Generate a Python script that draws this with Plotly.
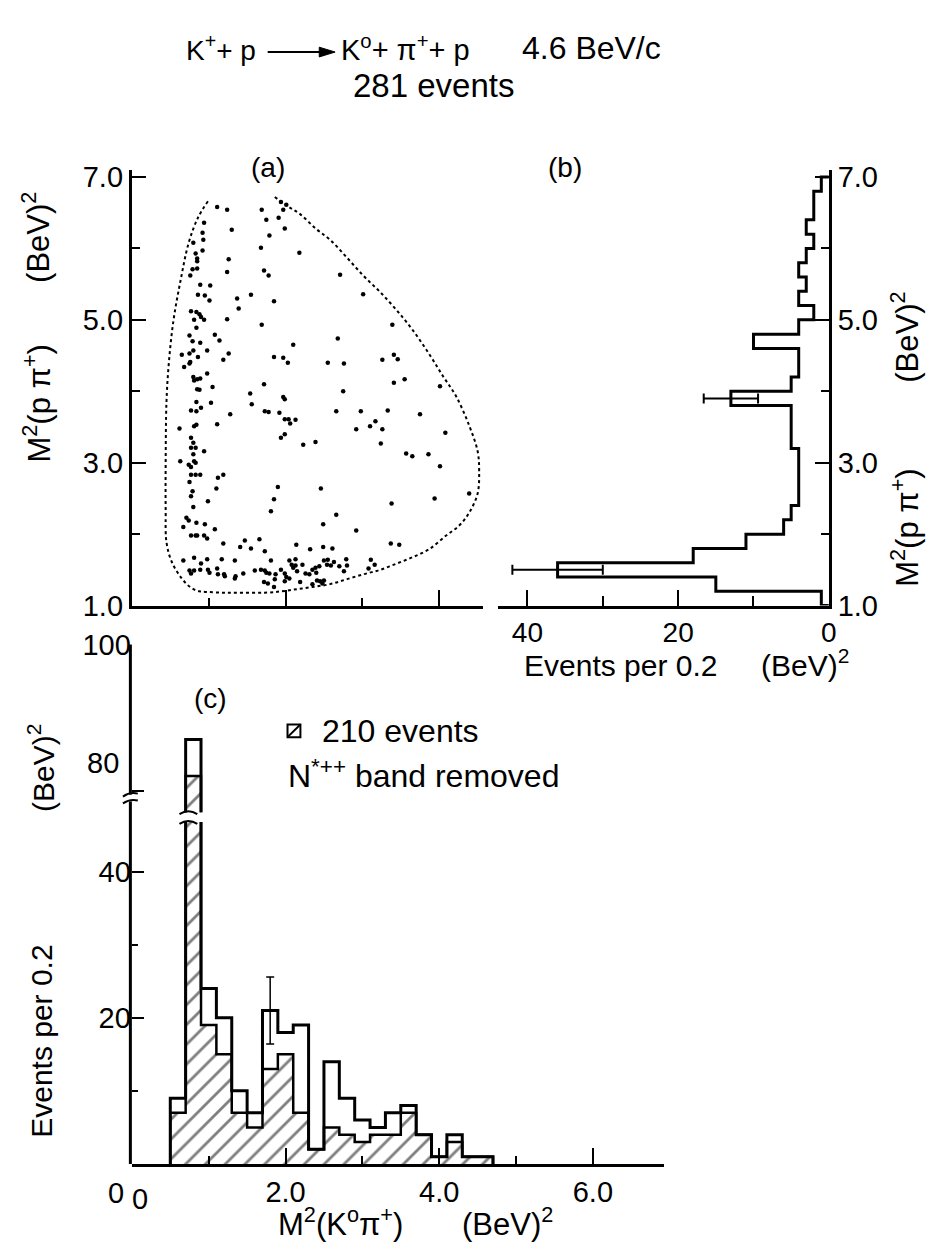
import plotly.graph_objects as go

# ---------------------------------------------------------------
# (a) Dalitz plot: M^2(K0 pi+) vs M^2(p pi+), (BeV)^2
# ---------------------------------------------------------------
m2_kpi = [
    1.11, 1.24, 1.69, 1.97, 2.01, 1.94, 0.94, 1.75, 1.91, 1.30, 1.99, 0.92, 1.79, 0.93, 0.80,
    1.68, 0.92, 2.18, 0.83, 0.85, 0.85, 1.26, 0.79, 0.85, 1.72, 1.24, 0.76, 1.78, 0.89, 1.02,
    0.86, 0.95, 1.01, 1.37, 1.55, 1.85, 1.39, 0.77, 0.84, 0.88, 0.90, 0.81, 0.94, 1.24, 1.69,
    0.84, 0.75, 1.08, 1.14, 0.79, 0.89, 2.10, 0.98, 0.80, 0.75, 0.65, 1.26, 1.85, 1.97, 2.03,
    0.86, 0.76, 0.75, 1.19, 0.68, 0.98, 0.80, 0.85, 0.89, 0.81, 1.72, 1.05, 0.85, 0.88, 1.54,
    1.97, 1.99, 0.84, 1.03, 1.56,
    2.71, 3.01, 3.39, 2.68, 2.55, 2.76, 3.26, 3.41, 3.46, 2.75, 3.41, 3.55, 4.01,
    0.77, 0.84, 0.90, 1.28, 1.73, 1.78, 1.92, 1.99, 2.04, 2.06, 2.13, 0.62, 0.81, 0.84, 1.11,
    1.94, 1.99, 2.23, 2.39, 0.77, 0.80, 0.77, 0.83, 0.94, 0.80, 0.63, 0.81, 0.83, 0.74, 0.77,
    0.77, 0.83, 0.89, 1.12, 1.19, 0.75, 1.10, 0.79, 0.77, 1.90, 0.99, 1.85, 0.80, 1.81, 0.71,
    0.74, 0.84, 0.95, 0.67, 1.08, 0.77, 0.83, 0.85, 0.94, 0.98, 1.47, 1.19, 1.66, 1.41, 1.55,
    2.14, 1.73, 2.32, 0.67, 0.81, 0.98, 1.17, 1.34, 1.81, 2.05, 2.13, 2.22, 0.75, 0.77, 0.81,
    0.90, 0.89, 0.99, 1.01, 1.11, 1.12, 1.20, 1.21, 1.34, 1.35, 1.45, 1.60, 1.68, 1.73, 1.75,
    1.79, 1.87, 1.94, 1.99, 1.99, 2.01, 2.05, 2.08, 2.10, 2.15, 2.13, 2.26, 2.31, 2.35, 1.72,
    1.77, 1.85, 1.86, 2.19, 2.35,
    2.66, 2.98, 3.33, 3.75, 2.92, 3.10, 3.17, 3.26, 4.08, 3.24, 3.57, 3.65, 3.86, 4.01, 2.46,
    3.38, 3.94, 4.39, 2.66, 2.49, 2.92, 3.37, 3.48, 2.49, 2.61, 2.79, 3.11, 2.39, 2.44, 2.50,
    2.55, 2.63, 2.54, 2.59, 2.70, 2.80, 3.16, 3.08, 2.76, 2.40, 2.41, 2.45, 2.48, 2.50,
]
m2_ppi = [
    6.58, 6.54, 6.54, 6.54, 6.61, 6.65, 6.36, 6.40, 6.43, 6.26, 6.28, 6.22, 6.18, 6.12, 6.08,
    6.01, 5.97, 5.94, 5.93, 5.86, 5.82, 5.85, 5.71, 5.72, 5.69, 5.67, 5.62, 5.62, 5.49, 5.48,
    5.35, 5.34, 5.27, 5.30, 5.35, 5.26, 5.16, 5.12, 5.11, 5.08, 5.04, 5.00, 5.00, 5.01, 4.93,
    4.89, 4.78, 4.79, 4.71, 4.70, 4.68, 4.65, 4.57, 4.57, 4.53, 4.51, 4.53, 4.48, 4.47, 4.40,
    4.48, 4.41, 4.39, 4.44, 4.34, 4.25, 4.20, 4.17, 4.18, 4.15, 4.10, 4.06, 4.03, 4.02, 3.97,
    3.92, 3.89, 3.85, 3.84, 3.82,
    5.63, 5.36, 4.93, 4.74, 4.40, 4.39, 4.44, 4.51, 4.45, 4.00, 4.12, 4.17, 4.07,
    3.73, 3.72, 3.77, 3.68, 3.72, 3.71, 3.70, 3.61, 3.61, 3.55, 3.60, 3.48, 3.51, 3.53, 3.54,
    3.35, 3.40, 3.25, 3.29, 3.35, 3.28, 3.21, 3.21, 3.16, 3.12, 3.02, 3.02, 3.00, 2.97, 2.94,
    2.83, 2.83, 2.83, 2.79, 2.83, 2.73, 2.64, 2.60, 2.53, 2.66, 2.46, 2.49, 2.38, 2.32, 2.23,
    2.19, 2.16, 2.14, 2.10, 2.07, 1.98, 1.98, 1.98, 1.98, 1.94, 1.91, 1.87, 1.93, 1.82, 1.80,
    1.85, 1.76, 1.79, 1.63, 1.67, 1.65, 1.65, 1.63, 1.63, 1.63, 1.65, 1.57, 1.49, 1.45, 1.49,
    1.59, 1.50, 1.50, 1.46, 1.52, 1.44, 1.44, 1.41, 1.38, 1.41, 1.45, 1.49, 1.50, 1.49, 1.46,
    1.45, 1.44, 1.50, 1.45, 1.34, 1.40, 1.38, 1.57, 1.53, 1.48, 1.56, 1.45, 1.44, 1.50, 1.33,
    1.31, 1.26, 1.37, 1.33, 1.30,
    3.72, 3.72, 3.73, 3.68, 3.47, 3.51, 3.58, 3.47, 3.42, 3.27, 3.13, 3.09, 3.12, 2.95, 2.64,
    2.43, 2.50, 2.57, 2.27, 2.14, 2.05, 1.87, 1.85, 1.82, 1.80, 1.65, 1.64, 1.53, 1.55, 1.63,
    1.64, 1.61, 1.57, 1.56, 1.55, 1.56, 1.57, 1.52, 1.48, 1.46, 1.35, 1.34, 1.31, 1.35,
]

# kinematic limit of the plot, traced from the upper-left round to the upper-right
bound_kpi = [0.99, 0.86, 0.74, 0.63, 0.54, 0.48, 0.45, 0.44, 0.44, 0.45, 0.52, 0.65, 0.77,
             0.88, 0.99, 1.20, 1.45, 1.73, 1.95, 2.15, 2.35, 2.58, 2.80, 3.02, 3.23, 3.45,
             3.66, 3.87, 4.09, 4.26, 4.39, 4.50, 4.52, 4.50, 4.39, 4.22, 4.05, 3.87, 3.66,
             3.45, 3.23, 3.02, 2.80, 2.58, 2.39, 2.19, 2.03, 1.86]
bound_ppi = [6.66, 6.43, 6.08, 5.53, 4.98, 4.38, 3.84, 3.02, 2.34, 1.89, 1.61, 1.38, 1.25,
             1.20, 1.19, 1.18, 1.18, 1.18, 1.20, 1.23, 1.26, 1.30, 1.37, 1.44, 1.50, 1.59,
             1.68, 1.79, 1.98, 2.12, 2.30, 2.57, 2.88, 3.16, 3.52, 3.93, 4.21, 4.52, 4.85,
             5.13, 5.39, 5.61, 5.87, 6.12, 6.28, 6.48, 6.59, 6.72]

# ---------------------------------------------------------------
# (b) M^2(p pi+) projection, events per 0.2 (BeV)^2 from 1.0 to 7.0
# ---------------------------------------------------------------
ppi_counts = [1, 15, 36, 18, 11, 6, 5, 4, 4, 4, 4, 5, 5, 5, 13,
              5, 4, 4, 10, 4, 2, 4, 3, 4, 3, 2, 3, 2, 2, 1]
ppi_err_bins = [1.5, 3.9]          # bin centres carrying statistical error bars

# ---------------------------------------------------------------
# (c) M^2(K0 pi+) projection, events per 0.2 (BeV)^2 from 0.5 to 4.7
# ---------------------------------------------------------------
kpi_all = [9, 87, 24, 20, 10, 7, 21, 18, 19, 2, 14, 9, 6, 5, 7, 8, 4, 1, 4, 1, 1]
kpi_cut = [7, 82, 19, 15, 7, 5, 13, 15, 7, 2, 5, 4, 3, 4, 4, 7, 4, 1, 3, 1, 1]
kpi_err_bin = 1.8

BIN = 0.2
ppi_lo = [1.0 + BIN * i for i in range(len(ppi_counts))]
kpi_lo = [0.5 + BIN * i for i in range(len(kpi_all))]

W, H = 935, 1255
FONT = "Liberation Sans"
INK = "black"


def px(x):
    return x / W


def py(y):
    return 1 - y / H


def nearest(centres, c):
    return min(range(len(centres)), key=lambda i: abs(centres[i] - c))


fig = go.Figure()

# ---- (a) ----
fig.add_trace(go.Scatter(x=bound_kpi, y=bound_ppi, mode="lines", xaxis="x", yaxis="y",
                         line=dict(color=INK, width=2, dash="dot", shape="spline"),
                         hoverinfo="skip"))
fig.add_trace(go.Scatter(x=m2_kpi, y=m2_ppi, mode="markers", xaxis="x", yaxis="y",
                         marker=dict(color=INK, size=4.5)))

# ---- (b) horizontal step histogram ----
b_x = [0] + ppi_counts + [0]
b_y = [ppi_lo[0]] + ppi_lo + [ppi_lo[-1] + BIN]
fig.add_trace(go.Scatter(x=b_x, y=b_y, mode="lines", xaxis="x2", yaxis="y2",
                         line=dict(color=INK, width=3, shape="vh"), hoverinfo="skip"))
ppi_mid = [v + BIN / 2 for v in ppi_lo]
b_err_x = [ppi_counts[nearest(ppi_mid, c)] for c in ppi_err_bins]
fig.add_trace(go.Scatter(x=b_err_x, y=ppi_err_bins, mode="markers", xaxis="x2", yaxis="y2",
                         marker=dict(size=1, color=INK),
                         error_x=dict(type="data", array=[v ** 0.5 for v in b_err_x],
                                      color=INK, thickness=2, width=5)))

# ---- (c) hatched + open histograms, lower and upper (broken) y ranges ----
kpi_mid = [v + BIN / 2 for v in kpi_lo]
c_x = [kpi_lo[0]] + kpi_lo + [kpi_lo[-1] + BIN]
for xa, ya in (("x3", "y3"), ("x4", "y4")):
    fig.add_trace(go.Bar(x=kpi_mid, y=kpi_cut, width=BIN, xaxis=xa, yaxis=ya,
                         marker=dict(color="white", line=dict(width=0),
                                     pattern=dict(shape="/", fgcolor=INK, bgcolor="white",
                                                  size=14, solidity=0.2)),
                         hoverinfo="skip"))
    fig.add_trace(go.Scatter(x=c_x, y=[0] + kpi_cut + [0], mode="lines", xaxis=xa, yaxis=ya,
                             line=dict(color=INK, width=2.5, shape="hv"), hoverinfo="skip"))
    fig.add_trace(go.Scatter(x=c_x, y=[0] + kpi_all + [0], mode="lines", xaxis=xa, yaxis=ya,
                             line=dict(color=INK, width=3, shape="hv"), hoverinfo="skip"))
c_err_y = kpi_all[nearest(kpi_mid, kpi_err_bin)]
fig.add_trace(go.Scatter(x=[kpi_err_bin], y=[c_err_y], mode="markers", xaxis="x3", yaxis="y3",
                         marker=dict(size=1, color=INK),
                         error_y=dict(type="data", array=[c_err_y ** 0.5], color=INK,
                                      thickness=1.5, width=4)))

# ---- axes ----
tick_font = dict(family=FONT, size=29, color=INK)
axis_common = dict(showline=True, linecolor=INK, linewidth=3, showgrid=False, zeroline=False,
                   ticks="inside", tickcolor=INK, tickwidth=2, tickfont=tick_font, mirror=False)
minor_ticks = dict(ticks="inside", tickcolor=INK, tickwidth=2)

A_DOM_Y = [py(605), py(158)]
A_RANGE_Y = [1.0, 1.0 + (605 - 158) / 73.3]
C_SCALE = 7.5          # pixels per event in panel (c)

fig.update_layout(
    width=W, height=H, margin=dict(l=0, r=0, t=0, b=0),
    paper_bgcolor="white", plot_bgcolor="rgba(0,0,0,0)", showlegend=False,
    bargap=0, barmode="overlay",
    xaxis=dict(axis_common, domain=[px(133), px(487)], range=[0, (487 - 133) / 77.5],
               anchor="y", tickvals=[2, 4], ticklen=16, showticklabels=False,
               minor=dict(minor_ticks, tickvals=[1, 3], ticklen=8)),
    yaxis=dict(axis_common, domain=A_DOM_Y, range=A_RANGE_Y, anchor="x",
               tickvals=[1, 3, 5, 7], ticktext=["1.0", "3.0", "5.0", "7.0"], ticklen=14,
               minor=dict(minor_ticks, tickvals=[2, 4, 6], ticklen=8)),
    xaxis2=dict(axis_common, domain=[px(502), px(836)], range=[(836 - 502) / 7.6, 0],
                anchor="y2", tickvals=[40, 20, 0], ticktext=["40", "20", "0"], ticklen=16,
                tickfont=dict(family=FONT, size=28, color=INK),
                minor=dict(minor_ticks, tickvals=[30, 10], ticklen=10)),
    yaxis2=dict(axis_common, domain=A_DOM_Y, range=A_RANGE_Y, anchor="x2", side="right",
                tickvals=[1, 3, 5, 7], ticktext=["1.0", "3.0", "5.0", "7.0"], ticklen=14,
                minor=dict(minor_ticks, tickvals=[2, 4, 6], ticklen=8)),
    xaxis3=dict(axis_common, domain=[px(133), px(670)], range=[0, (670 - 133) / 77.5],
                anchor="y3", tickvals=[2, 4, 6], ticktext=["2.0", "4.0", "6.0"], ticklen=16,
                minor=dict(minor_ticks, tickvals=[1, 3, 5], ticklen=8)),
    yaxis3=dict(axis_common, showline=False, domain=[py(1178), py(827)],
                range=[0, (1178 - 827) / C_SCALE], anchor="x3",
                tickvals=[20, 40], ticktext=["20", "40"], ticklen=12,
                minor=dict(minor_ticks, tickvals=[10, 30], ticklen=6)),
    xaxis4=dict(domain=[px(133), px(670)], range=[0, (670 - 133) / 77.5], anchor="y4",
                visible=False),
    yaxis4=dict(axis_common, showline=False, domain=[py(817), py(645)],
                range=[100 - (817 - 645) / C_SCALE, 100], anchor="x4",
                tickvals=[80, 100], ticktext=["", "100"], ticklen=12),
)


# ---- text ----
def note(text, x, y, size=31, angle=0, xanchor="center"):
    fig.add_annotation(text=text, x=px(x), y=py(y), xref="paper", yref="paper",
                       showarrow=False, textangle=angle, xanchor=xanchor, yanchor="middle",
                       font=dict(family=FONT, size=size, color=INK))


# reaction line with a drawn arrow
note("K<sup>+</sup>+ p", 186, 33, size=28, xanchor="left")
note("K<sup>o</sup>+ π<sup>+</sup>+ p", 342, 33, size=29, xanchor="left")
note("4.6 BeV/c", 524, 33, size=32, xanchor="left")
fig.add_shape(type="line", xref="paper", yref="paper", x0=px(270), x1=px(324),
              y0=py(37), y1=py(37), line=dict(color=INK, width=2))
fig.add_shape(type="path", xref="paper", yref="paper",
              path=f"M {px(322)},{py(32)} L {px(338)},{py(37)} L {px(322)},{py(42)} Z",
              fillcolor=INK, line=dict(color=INK, width=1))
note("281 events", 437, 71, size=33)

note("(a)", 270, 155, size=28)
note("(b)", 570, 155, size=28)
note("(c)", 212, 700, size=28)

# panel (a) y title
note("M<sup>2</sup>(p π<sup>+</sup>)", 37, 398, size=31, angle=-90)
note("(BeV)<sup>2</sup>", 37, 227, size=31, angle=-90)
# panel (b) side title
note("M<sup>2</sup>(p π<sup>+</sup>)", 912, 525, size=31, angle=-90)
note("(BeV)<sup>2</sup>", 912, 330, size=31, angle=-90)
# panel (b) x title
note("Events per 0.2", 527, 667, size=30, xanchor="left")
note("(BeV)<sup>2</sup>", 858, 664, size=30, xanchor="right")
# panel (c) y title
note("Events per 0.2", 42, 1052, size=30, angle=-90)
note("(BeV)<sup>2</sup>", 42, 772, size=30, angle=-90)
# panel (c) x title
note("M<sup>2</sup>(K<sup>o</sup>π<sup>+</sup>)", 343, 1238, size=31)
note("(BeV)<sup>2</sup>", 512, 1238, size=31)
# zeros at the corner of panel (c) and the 80 label above its tick
note("0", 117, 1208, size=29)
note("0", 141, 1214, size=29)
note("80", 104, 767, size=29)

# key
note("210 events", 323, 734, size=32, xanchor="left")
note("N<sup>*++</sup> band removed", 288, 778, size=32, xanchor="left")
fig.add_shape(type="rect", xref="paper", yref="paper", x0=px(290), x1=px(303),
              y0=py(740), y1=py(727), line=dict(color=INK, width=2))
fig.add_shape(type="line", xref="paper", yref="paper", x0=px(290), x1=px(303),
              y0=py(740), y1=py(727), line=dict(color=INK, width=2))

# panel (c) y axis line, broken just below the 80 tick
AX = 131.5
for y0, y1 in ((645, 799), (806, 1178)):
    fig.add_shape(type="line", xref="paper", yref="paper", x0=px(AX), x1=px(AX),
                  y0=py(y0), y1=py(y1), line=dict(color=INK, width=3))
for yb in (799, 806):
    fig.add_shape(type="path", xref="paper", yref="paper",
                  path=f"M {px(124)},{py(yb + 2)} Q {px(131)},{py(yb - 3)} {px(139)},{py(yb - 1)}",
                  line=dict(color=INK, width=2))
# cut marks across the tall bar
for yb in (817, 827):
    fig.add_shape(type="path", xref="paper", yref="paper",
                  path=f"M {px(181)},{py(yb + 2)} Q {px(190)},{py(yb - 4)} {px(199)},{py(yb + 2)}",
                  line=dict(color=INK, width=2))

fig.write_html("out.html")
